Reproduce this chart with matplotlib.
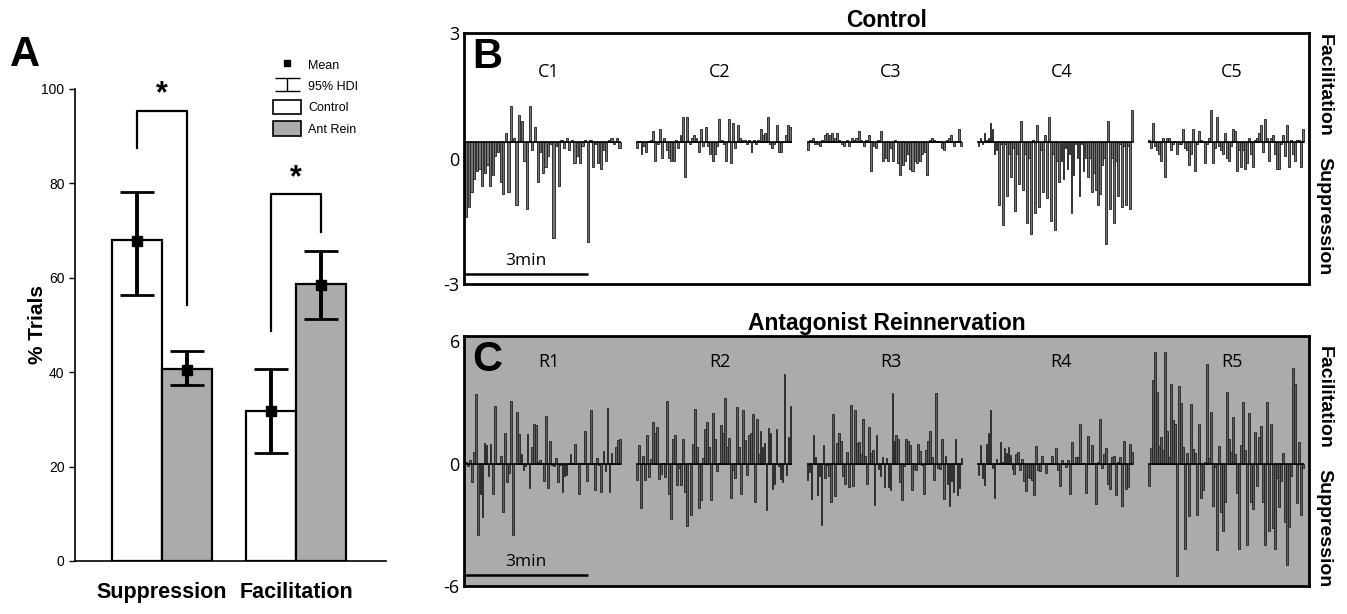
import matplotlib.pyplot as plt
import numpy as np
from matplotlib.patches import Patch
from matplotlib.lines import Line2D

# ---- panel A data ----
groups = ["Suppression", "Facilitation"]
ctrl_pct = [68.0, 31.8]
ctrl_mean = [67.7, 31.8]
ctrl_lo = [56.4, 22.9]
ctrl_hi = [78.1, 40.7]
ant_pct = [40.7, 58.6]
ant_mean = [40.5, 58.4]
ant_lo = [37.2, 51.2]
ant_hi = [44.5, 65.7]
# brackets: (left leg bottom, top, right leg bottom)
brackets = [(87.6, 95.4, 54.2), (48.8, 77.7, 69.8)]

# ---- panel B (control) traces, values relative to trace baseline ----
control_names = ["C1", "C2", "C3", "C4", "C5"]
c1 = [-1.8, -1.55, -1.2, -0.9, -0.7, -0.65, -1.05, -0.75, -0.55, -1.05, -0.8, -0.35,
      -0.25, -0.95, -1.25, 0.2, -1.2, 0.85, 0.1, -1.5, 0.65, 0.5, -0.45, -1.6, 0.85,
      -0.2, 0.35, -0.95, -0.25, -0.75, -0.6, -0.35, -0.05, -2.3, -0.1, -1.05, 0.05,
      -0.15, 0.08, -0.2, 0.05, -0.5, -0.35, -0.5, -0.1, 0.05, -2.4, 0.05, -0.6, -0.05,
      -0.5, -0.65, -0.2, -0.45, 0.05, 0.1, -0.05, 0.1, -0.15]
c2 = [-0.15, 0.03, -0.3, -0.1, -0.25, 0.03, 0.05, 0.25, -0.45, -0.05, 0.3, -0.4, 0.1,
      -0.2, -0.4, -0.45, -0.45, 0.05, -0.15, 0.15, 0.6, -0.85, 0.6, -0.05, 0.1, 0.15,
      0.1, -0.25, 0.3, -0.1, 0.35, -0.1, -0.3, -0.45, -0.3, -0.1, 0.55, 0.05, -0.05,
      -0.45, 0.55, -0.5, 0.45, -0.15, 0.4, 0.1, 0.05, 0.05, -0.05, 0.05, -0.25, 0.05,
      -0.05, 0.05, 0.3, 0.15, 0.2, 0.6, -0.05, -0.15, -0.05, 0.4, -0.25, -0.25, 0.03,
      0.15, 0.4, 0.35]
c3 = [-0.2, 0.05, 0.1, -0.05, -0.05, -0.1, 0.05, 0.15, 0.2, 0.15, 0.2, 0.1, 0.2, 0.05,
      -0.05, -0.1, 0.05, -0.1, 0.1, 0.05, 0.1, 0.25, 0.05, -0.1, 0.05, 0.15, -0.7,
      -0.1, -0.15, 0.05, 0.25, -0.45, -0.4, -0.45, -0.15, -0.45, 0.05, -0.5, -0.8,
      -0.55, -0.45, -0.3, -0.65, -0.7, -0.45, -0.5, -0.45, -0.3, -0.25, -0.8, 0.05,
      0.1, 0.05, 0.03, 0.03, -0.15, -0.2, 0.05, 0.1, 0.15, -0.1, 0.03, 0.3, -0.1]
c4 = [-0.1, 0.1, -0.05, 0.2, 0.05, 0.1, 0.45, 0.3, -0.3, -0.2, -1.5, -0.05, -2.0,
      -0.05, -1.3, -0.3, -0.85, -0.15, -1.65, -0.3, -1.0, 0.5, -1.15, -0.3, -1.95,
      -0.4, -2.2, 0.05, -1.7, 0.4, -1.55, -0.2, -1.2, 0.15, -1.35, 0.6, -1.9, -0.3,
      -2.1, -0.45, -0.95, -0.45, -0.9, -0.15, -0.65, -0.3, -1.7, -0.8, -0.05, -0.4,
      -1.3, -0.05, -0.7, -0.4, -0.85, -0.4, -1.2, -0.75, -1.15, -1.5, -1.25, -0.55,
      -0.4, -2.45, 0.5, -1.6, -0.4, -1.95, -0.45, -1.3, -0.05, -1.55, -0.1, -1.5,
      -0.1, -1.6, 0.75]
c5 = [0.05, -0.15, 0.45, -0.1, -0.2, -0.3, -0.45, 0.1, -0.85, 0.1, 0.1, -0.2, -0.05,
      0.03, -0.3, -0.05, -0.05, 0.3, -0.15, -0.2, -0.55, -0.3, 0.3, -0.7, -0.05, 0.25,
      0.05, 0.03, -0.5, -0.05, 0.1, 0.75, -0.5, -0.15, 0.6, -0.1, -0.2, -0.3, 0.2,
      -0.4, -0.45, -0.1, 0.3, 0.25, -0.7, -0.2, -0.6, -0.2, -0.65, -0.5, 0.1, -0.3,
      -0.6, 0.05, 0.1, 0.2, 0.4, -0.25, 0.55, 0.1, -0.45, 0.1, 0.15, -0.3, -0.65,
      -0.65, -0.05, 0.15, -0.35, 0.4, -0.6, 0.05, -0.3, -0.45, 0.05, 0.05, -0.6, 0.3]
control_traces = [c1, c2, c3, c4, c5]
control_base = 0.4

# ---- panel C (antagonist reinnervation) traces ----
rein_names = ["R1", "R2", "R3", "R4", "R5"]
r1 = [0.1, -0.1, 0.15, -0.9, 0.55, 3.4, -3.5, -1.5, -2.6, 1.0, 0.9, -0.6, 0.95, -1.5,
      2.8, 0.05, 0.05, 0.35, -2.35, 1.5, -0.9, -0.45, 3.05, -3.5, 0.05, 2.55, 1.45,
      0.45, -0.3, -0.1, 1.45, -1.2, 0.8, 1.95, 1.9, 0.1, 0.15, 0.05, -0.85, 2.35, -1.2,
      1.1, -0.05, -0.1, 0.25, -0.9, -0.05, -1.4, -0.6, -0.55, 0.05, 0.45, 0.05, 0.95,
      0.05, -1.5, 0.05, 0.05, 1.6, -0.85, 0.05, 2.6, 0.05, -1.3, 0.25, -0.05, -1.4,
      0.6, -0.35, 2.7, -1.4, 0.5, 0.05, 0.8, 1.15, 1.2]
r2 = [-0.8, 0.9, -2.2, 0.35, -0.8, 1.4, -0.65, 0.2, 2.05, 1.5, 1.8, -0.75, -0.5, 0.05,
      -0.65, 3.05, -1.5, -2.7, 1.2, 1.4, -1.05, -0.2, -1.05, 1.2, -1.4, -3.05, 0.05,
      -2.5, 0.95, 2.65, 0.8, -2.2, -1.8, 0.25, 1.7, 2.05, 0.8, -1.8, 2.5, 1.2, -0.35,
      0.05, 1.9, 1.5, 3.2, 0.8, 1.25, -1.7, -0.3, -0.7, 2.75, 0.8, -1.5, 2.6, 1.15,
      -0.55, 1.4, 1.5, 2.45, -1.9, 2.2, 0.45, 1.6, 0.8, 1.0, -2.3, 1.75, 1.5, -1.25,
      -1.0, 1.7, -0.1, -0.75, -0.9, 4.4, -0.55, 1.3, 2.8]
r3 = [-0.8, -0.4, -1.75, 1.4, 0.3, -1.55, -0.6, -3.0, 0.9, -0.7, -0.05, -0.6, -1.9,
      2.45, -1.6, 1.0, 1.5, 1.1, -0.6, -1.0, 0.55, -1.15, 2.85, -1.1, 2.6, 1.0, 1.05,
      0.45, 2.2, 0.35, -1.0, 1.8, 0.5, 0.65, -2.05, 1.4, -0.25, -0.6, 0.3, -1.15, 0.25,
      -1.15, -1.3, 3.45, 1.1, 1.4, 1.2, -0.9, -1.8, -0.1, 1.2, 1.1, 0.9, -1.3, -0.25,
      -0.3, 0.95, 0.6, -0.05, -1.5, 0.65, 1.1, 1.6, 0.3, -0.8, 3.45, -0.2, -0.25, 1.2,
      -1.75, 0.35, -1.0, -2.1, -0.85, -1.4, 1.2, -1.55, -1.2, 0.25]
r4 = [-0.55, 0.9, -0.7, -1.05, 0.95, 1.5, 2.6, -0.2, -1.7, 0.2, 0.05, 1.05, 0.1, 0.75,
      0.5, 0.8, 0.4, -0.25, -0.5, 0.45, 0.55, -0.3, 0.2, -0.85, -1.35, -0.65, -0.7,
      -0.8, -1.55, 0.85, -0.3, -0.35, 0.35, 0.05, -0.45, 0.05, 0.05, 0.35, 0.05, 0.75,
      -0.3, -1.1, 0.15, 0.05, -0.15, 0.15, -1.5, 1.05, 0.05, 0.3, 0.3, 1.95, 0.05, 0.05,
      -1.45, 1.35, 0.05, 0.9, 0.05, -2.0, 0.1, 2.2, -0.2, 0.45, 0.75, -1.0, -1.25, 0.3,
      0.35, -1.55, 0.1, 0.3, -2.1, 1.1, -1.25, -1.15, 0.95, 0.55]
r5 = [-1.1, 0.75, 4.1, 5.45, 3.5, 0.85, 1.3, 0.65, 5.45, 1.6, 0.3, 3.9, 2.15, 1.95,
      -5.5, 3.8, 2.95, 0.8, -4.2, 0.5, -2.55, 2.9, 0.7, 0.5, -2.5, 1.95, -1.7, -1.3,
      0.1, 4.9, 0.25, 2.55, -2.1, -0.15, -4.25, 0.85, -2.35, -3.3, -1.9, 3.5, 1.2, 0.55,
      2.3, 0.45, -1.45, -4.2, 0.9, 3.0, 0.65, -4.0, 2.5, -1.9, -2.25, 1.55, -1.1, 1.3,
      1.85, -1.9, -4.0, 3.0, -3.3, 1.95, -3.15, -4.2, -0.7, -2.15, -0.85, 0.5, -2.85,
      -4.95, -3.1, -0.6, 4.7, 3.9, -1.95, 1.05, -2.5, -0.2]
rein_traces = [r1, r2, r3, r4, r5]
rein_base = 0.0

GREY = "#ababab"

plt.rcParams["font.family"] = ["Liberation Sans", "DejaVu Sans"]
fig = plt.figure(figsize=(13.47, 6.14), dpi=100)


def px(x0, y0, x1, y1):
    W, H = 1347, 614
    return [x0 / W, 1 - y1 / H, (x1 - x0) / W, (y1 - y0) / H]


# ================= panel A =================
axA = fig.add_axes(px(75, 89, 386, 561))
xc = np.array([0.0, 2.68])
xa = xc + 1.0
axA.bar(xc, ctrl_pct, width=1.0, color="white", edgecolor="k", linewidth=1.6, zorder=2)
axA.bar(xa, ant_pct, width=1.0, color=GREY, edgecolor="k", linewidth=1.6, zorder=2)
for x, m, lo, hi in [(xc, ctrl_mean, ctrl_lo, ctrl_hi), (xa, ant_mean, ant_lo, ant_hi)]:
    m = np.array(m)
    err = [m - np.array(lo), np.array(hi) - m]
    axA.errorbar(x, m, yerr=err, fmt="none", ecolor="k", elinewidth=2.8,
                 capsize=12, capthick=2, zorder=3)
    axA.plot(x, m, "s", color="k", ms=7, zorder=4)
for i, (l, t, r) in enumerate(brackets):
    axA.plot([xc[i], xc[i], xa[i], xa[i]], [l, t, t, r], color="k", lw=1.6, zorder=3)
    axA.text((xc[i] + xa[i]) / 2, t + 0.3, "*", ha="center", va="bottom",
             fontsize=22, fontweight="bold")
axA.set_xlim(-1.23, 4.97)
axA.set_ylim(0, 100)
axA.set_yticks([0, 20, 40, 60, 80, 100])
axA.tick_params(axis="y", labelsize=10, length=4, width=1, direction="out")
axA.set_xticks((xc + xa) / 2)
axA.set_xticklabels(groups, fontsize=15.5, fontweight="bold")
axA.tick_params(axis="x", length=0, pad=15)
axA.spines["top"].set_visible(False)
axA.spines["right"].set_visible(False)
axA.spines["left"].set_linewidth(1.2)
axA.spines["bottom"].set_linewidth(1.2)
axA.set_ylabel("% Trials", fontsize=15, fontweight="bold")
axA.yaxis.set_label_coords(-0.09, 0.5)

hdi = axA.errorbar([np.nan], [np.nan], yerr=[1], fmt="none", ecolor="k",
                   elinewidth=1, capsize=9, capthick=1)
handles = [Line2D([], [], marker="s", ls="none", color="k", ms=5), hdi,
           Patch(facecolor="white", edgecolor="k", linewidth=1.2),
           Patch(facecolor=GREY, edgecolor="k", linewidth=1.2)]
fig.legend(handles, ["Mean", "95% HDI", "Control", "Ant Rein"],
           loc="upper left", bbox_to_anchor=(262 / 1347, 1 - 46 / 614),
           frameon=False, fontsize=9, handlelength=2.2, handleheight=1.4,
           labelspacing=0.55, handletextpad=0.6)
fig.text(10 / 1347, 1 - 55 / 614, "A", fontsize=30, fontweight="bold",
         va="center", ha="left")

# ================= panels B, C =================
SLOT, SPAN, OFF, XMAX = 171, 156, 1, 846


def draw_traces(ax, traces, names, base, face, edge, label_y):
    for i, vals in enumerate(traces):
        vals = np.array(vals)
        n = len(vals)
        pitch = SPAN / n
        x0 = OFF + i * SLOT
        xs = x0 + (np.arange(n) + 0.5) * pitch
        ax.bar(xs, vals, width=pitch * 0.85, bottom=base, color=face,
               edgecolor=edge, linewidth=0.6, zorder=2)
        ax.hlines(base, x0, x0 + SPAN, color="k", lw=1.2, zorder=3)
        ax.text(x0 + SPAN / 2 + 6, label_y, names[i], ha="center", va="center",
                fontsize=13, family=["Open Sans", "DejaVu Sans"])


def style_box(ax, lim, ticks, title, letter, fac_y, sup_y, bar_y, facecolor):
    ax.set_facecolor(facecolor)
    ax.set_xlim(0, XMAX)
    ax.set_ylim(*lim)
    ax.set_xticks([])
    ax.set_yticks(ticks)
    ax.set_yticklabels([str(t) for t in ticks], family=["Open Sans", "DejaVu Sans"])
    ax.tick_params(axis="y", length=0, labelsize=13, pad=3)
    for s in ax.spines.values():
        s.set_linewidth(2)
    ax.set_title(title, fontsize=16.5, fontweight="bold", pad=4)
    ax.text(0.028, 0.905, letter, transform=ax.transAxes, fontsize=30,
            fontweight="bold", ha="center", va="center")
    ax.text(1.018, fac_y, "Facilitation", transform=ax.transAxes, rotation=-90,
            ha="center", va="center", fontsize=14, fontweight="bold")
    ax.text(1.018, sup_y, "Suppression", transform=ax.transAxes, rotation=-90,
            ha="center", va="center", fontsize=14, fontweight="bold")
    ax.hlines(bar_y, 0, 124, color="k", lw=1.8, zorder=3)
    span = lim[1] - lim[0]
    ax.text(62, bar_y + 0.02 * span, "3min", ha="center", va="bottom",
            fontsize=12.5, family=["Open Sans", "DejaVu Sans"])


axB = fig.add_axes(px(464, 33, 1309, 284))
draw_traces(axB, control_traces, control_names, control_base, "#767676", "#1e1e1e", 2.06)
style_box(axB, (-3, 3), [-3, 0, 3], "Control", "B", 0.793, 0.27, -2.76, "white")

axC = fig.add_axes(px(464, 336, 1309, 586))
draw_traces(axC, rein_traces, rein_names, rein_base, "#5e5e5e", "#222222", 5.0)
style_box(axC, (-5.75, 6.25), [-6, 0, 6], "Antagonist Reinnervation", "C",
          0.756, 0.232, -5.45, GREY)

fig.savefig("out.png", dpi=100)
